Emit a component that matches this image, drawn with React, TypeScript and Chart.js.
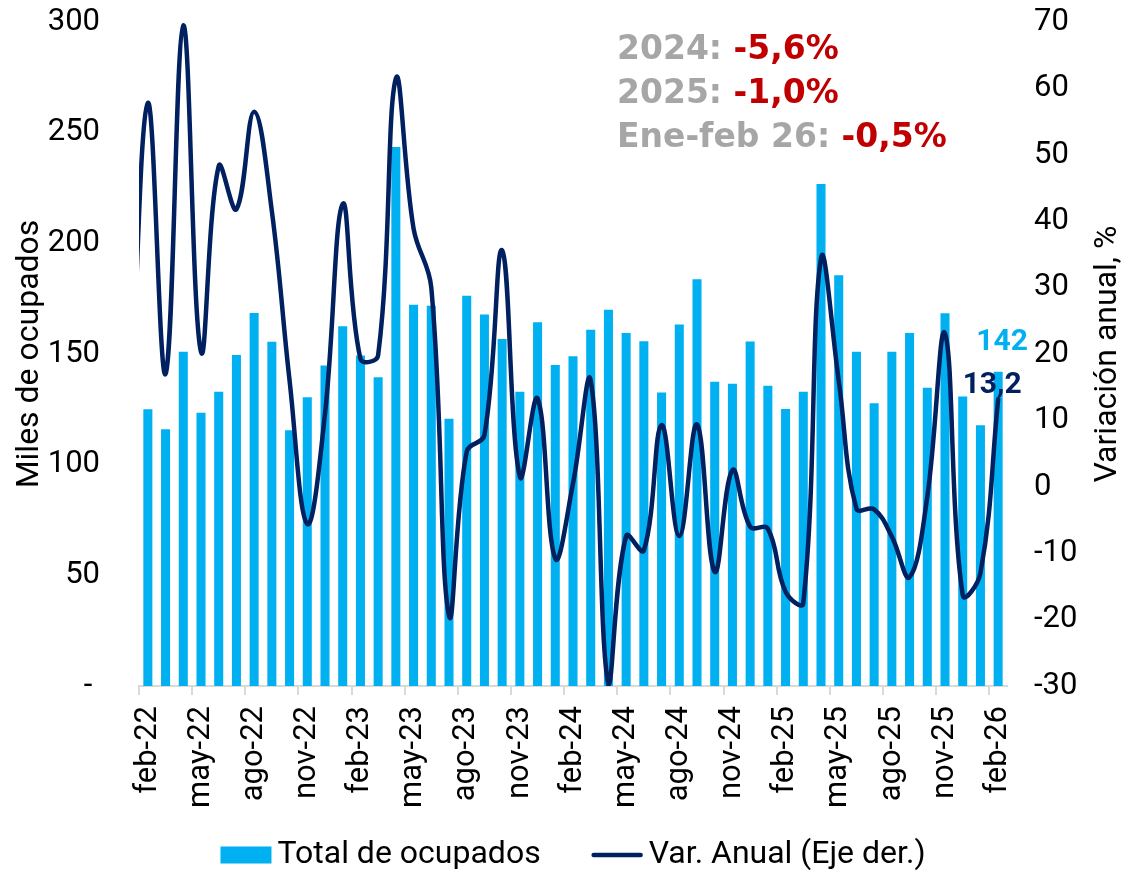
import React, { useEffect, useRef } from 'react';
import { Chart, registerables } from 'chart.js';

Chart.register(...registerables);

// Categories (the line series starts one month before the first visible bar)
const months = [
  'ene-22', 'feb-22', 'mar-22', 'abr-22', 'may-22', 'jun-22', 'jul-22', 'ago-22', 'sep-22', 'oct-22', 'nov-22', 'dic-22',
  'ene-23', 'feb-23', 'mar-23', 'abr-23', 'may-23', 'jun-23', 'jul-23', 'ago-23', 'sep-23', 'oct-23', 'nov-23', 'dic-23',
  'ene-24', 'feb-24', 'mar-24', 'abr-24', 'may-24', 'jun-24', 'jul-24', 'ago-24', 'sep-24', 'oct-24', 'nov-24', 'dic-24',
  'ene-25', 'feb-25', 'mar-25', 'abr-25', 'may-25', 'jun-25', 'jul-25', 'ago-25', 'sep-25', 'oct-25', 'nov-25', 'dic-25',
  'ene-26', 'feb-26',
];

// Total de ocupados (miles), feb-22 .. feb-26
const ocupados = [
  125, 116, 151, 123.5, 133, 149.5, 168.5, 155.5, 115.5, 130.5, 144.8,
  162.5, 149.3, 139.5, 243.5, 172.3, 171.8, 120.8, 176.3, 167.8, 156.8, 133, 164.3,
  145, 149, 161, 170, 159.5, 155.8, 132.6, 163.3, 183.8, 137.5, 136.6, 155.6,
  135.6, 125.2, 133, 226.8, 185.6, 151, 127.8, 151, 159.5, 134.8, 168.4, 130.8,
  117.8, 142,
];

// Var. anual (%), ene-22 .. feb-26
const variacion = [
  9, 57.8, 17, 69.5, 20.3, 48.3, 41.8, 56.5, 41.5, 16, -5.6, 11,
  42.6, 19.3, 19.8, 61.5, 38.9, 30, -19.4, 5.3, 7.8, 35.6, 1.5, 13.3,
  -10.8, 0.5, 16, -29.8, -7.4, -9.6, 9.3, -7.4, 9.4, -12.8, 2.5, -6,
  -6.3, -15.8, -17.5, 34.4, 16, -3.3, -3.4, -7.5, -13.6, -1.5, 23.1, -16.3,
  -13, 13.2,
];

const annotationLabels = ['2024: ', '2025: ', 'Ene-feb 26: '];
const annotationValues = ['-5,6%', '-1,0%', '-0,5%'];
const legendLabels = ['Total de ocupados', 'Var. Anual (Eje der.)'];
const leftTitle = 'Miles de ocupados';
const rightTitle = 'Variación anual, %';

const BAR_COLOR = '#00b0f0';
const LINE_COLOR = '#002060';
const TEXT_COLOR = '#000000';
const FONT = 'Roboto';
const FS_TICK = 31;
const FS_TEXT = 32;

const overlayPlugin = {
  id: 'overlay',
  afterDatasetsDraw(chart: any) {
    const ctx = chart.ctx;
    const barMeta = chart.getDatasetMeta(0);
    const lineMeta = chart.getDatasetMeta(1);
    const lastBar = barMeta.data[barMeta.data.length - 1];
    const lastPt = lineMeta.data[lineMeta.data.length - 1];
    ctx.save();
    ctx.font = `bold 30px ${FONT}`;
    ctx.textAlign = 'center';
    ctx.textBaseline = 'alphabetic';
    if (lastBar) {
      ctx.fillStyle = BAR_COLOR;
      ctx.fillText(ocupados[ocupados.length - 1].toFixed(0), lastBar.x + 4, lastBar.y - 22);
    }
    if (lastPt) {
      ctx.fillStyle = LINE_COLOR;
      ctx.fillText(variacion[variacion.length - 1].toFixed(1).replace('.', ','), lastPt.x - 6, lastPt.y - 6);
    }
    ctx.restore();
  },
  afterDraw(chart: any) {
    const ctx = chart.ctx;
    const area = chart.chartArea;
    ctx.save();
    // Annotation block
    ctx.font = `bold 33px "DejaVu Sans"`;
    ctx.textAlign = 'left';
    ctx.textBaseline = 'alphabetic';
    const baseX = 617;
    const baseYs = [59, 103, 147];
    annotationLabels.forEach((lab, i) => {
      ctx.fillStyle = '#a6a6a6';
      ctx.fillText(lab, baseX, baseYs[i]);
      const w = ctx.measureText(lab).width;
      ctx.fillStyle = '#c00000';
      ctx.fillText(annotationValues[i], baseX + w, baseYs[i]);
    });

    // Right axis title (reading bottom to top)
    ctx.font = `${FS_TEXT}px ${FONT}`;
    ctx.fillStyle = TEXT_COLOR;
    ctx.textAlign = 'center';
    ctx.textBaseline = 'middle';
    ctx.translate(1108, (area.top + area.bottom) / 2);
    ctx.rotate(-Math.PI / 2);
    ctx.fillText(rightTitle, 0, 0);
    ctx.setTransform(1, 0, 0, 1, 0, 0);

    // Legend
    ctx.font = `${FS_TEXT}px ${FONT}`;
    const boxW = 51, boxH = 17, gapText = 6, gapItems = 53, lineW = 47, lineGap = 8;
    const w1 = ctx.measureText(legendLabels[0]).width;
    const w2 = ctx.measureText(legendLabels[1]).width;
    const total = boxW + gapText + w1 + gapItems + lineW + lineGap + w2;
    let x = (area.left + area.right) / 2 - total / 2;
    const cy = 855;
    ctx.fillStyle = BAR_COLOR;
    ctx.fillRect(x, cy - boxH / 2, boxW, boxH);
    x += boxW + gapText;
    ctx.fillStyle = TEXT_COLOR;
    ctx.textAlign = 'left';
    ctx.textBaseline = 'middle';
    ctx.fillText(legendLabels[0], x, cy);
    x += w1 + gapItems;
    ctx.strokeStyle = LINE_COLOR;
    ctx.lineWidth = 4.5;
    ctx.lineCap = 'round';
    ctx.beginPath();
    ctx.moveTo(x, cy);
    ctx.lineTo(x + lineW, cy);
    ctx.stroke();
    x += lineW + lineGap;
    ctx.fillText(legendLabels[1], x, cy);
    ctx.restore();
  },
};

export default function App() {
  const ref = useRef<HTMLCanvasElement | null>(null);

  useEffect(() => {
    if (!ref.current) return;
    const tickFont = { family: FONT, size: FS_TICK };
    const titleFont = { family: FONT, size: FS_TEXT };
    const chart = new Chart(ref.current, {
      type: 'bar',
      data: {
        labels: months,
        datasets: [
          {
            type: 'bar',
            label: legendLabels[0],
            data: [null, ...ocupados],
            backgroundColor: BAR_COLOR,
            yAxisID: 'y',
            order: 1,
            barPercentage: 0.51,
            categoryPercentage: 1,
          },
          {
            type: 'line',
            label: legendLabels[1],
            data: variacion,
            borderColor: LINE_COLOR,
            backgroundColor: LINE_COLOR,
            borderWidth: 4.5,
            pointRadius: 0,
            tension: 0.4,
            yAxisID: 'y1',
            order: 0,
            borderCapStyle: 'round',
            borderJoinStyle: 'round',
          },
        ] as any,
      },
      options: {
        responsive: false,
        animation: false,
        layout: { padding: { top: 22, left: 0, right: 0, bottom: 0 } },
        plugins: { legend: { display: false }, tooltip: { enabled: false } },
        scales: {
          x: {
            min: 'feb-22',
            offset: true,
            grid: {
              display: true,
              drawOnChartArea: false,
              offset: true,
              tickLength: 9,
              lineWidth: 2,
              color: (c: any) => (c.index !== undefined && c.index % 3 === 0 ? '#d9d9d9' : 'rgba(0,0,0,0)'),
            },
            border: { display: true, color: '#d9d9d9', width: 2 },
            ticks: {
              autoSkip: false,
              maxRotation: 90,
              minRotation: 90,
              padding: 11,
              font: tickFont,
              color: TEXT_COLOR,
              callback(this: any, value: any, index: number) {
                return index % 3 === 0 ? this.getLabelForValue(value) : '';
              },
            },
            afterFit(scale: any) {
              scale.height = 187;
              scale.paddingLeft = 0;
              scale.paddingRight = 0;
            },
          },
          y: {
            position: 'left',
            min: 0,
            max: 300,
            grid: { display: false, drawTicks: false },
            border: { display: false },
            ticks: {
              stepSize: 50,
              padding: 39,
              font: tickFont,
              color: TEXT_COLOR,
              callback: (v: any) => (v === 0 ? '- ' : String(v)),
            },
            title: {
              display: true,
              text: leftTitle,
              font: titleFont,
              color: TEXT_COLOR,
              padding: { top: 11, bottom: 0 },
            },
            afterFit(scale: any) {
              scale.width = 139;
              scale.paddingTop = 18;
              scale.paddingBottom = 18;
            },
          },
          y1: {
            position: 'right',
            min: -30,
            max: 70,
            grid: { display: false, drawTicks: false },
            border: { display: false },
            ticks: {
              stepSize: 10,
              padding: 27,
              font: tickFont,
              color: TEXT_COLOR,
            },
            afterFit(scale: any) {
              scale.width = 120;
              scale.paddingTop = 18;
              scale.paddingBottom = 18;
            },
          },
        },
      } as any,
      plugins: [overlayPlugin],
    });
    return () => chart.destroy();
  }, []);

  return (
    <div style={{ position: 'fixed', left: 0, top: 0, width: 1127, height: 873, background: '#ffffff' }}>
      <canvas ref={ref} width={1127} height={873} style={{ display: 'block', width: 1127, height: 873 }} />
    </div>
  );
}
